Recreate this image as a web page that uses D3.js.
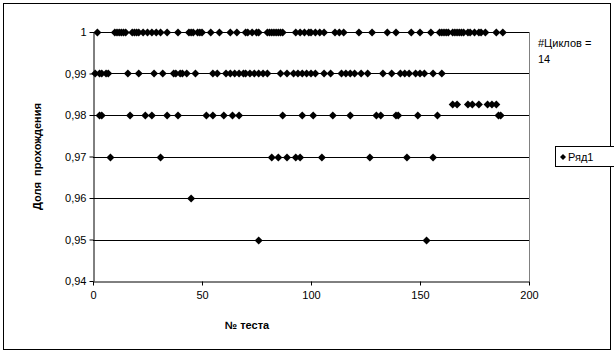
<!DOCTYPE html>
<html>
<head>
<meta charset="utf-8">
<script src="https://cdn.jsdelivr.net/npm/d3@7"></script>
<style>
  body { margin: 0; background: #fff; }
  svg { font-family: Arial, "Liberation Sans", sans-serif; }
</style>
</head>
<body>
<div id="chart"></div>
<script>
// test numbers for each pass-rate level
const tests100 = [2, 10, 11, 12, 13, 14, 15, 18, 19, 20, 21, 23, 25, 27, 29, 31, 34, 39,
  44, 45, 46, 48, 49, 50, 54, 58, 63, 66, 70, 71, 73, 75, 76, 80, 81, 82, 83, 84, 85, 86, 87,
  93, 95, 97, 99, 100, 102, 104, 106, 111, 113, 115, 122, 128, 135, 139, 146, 150, 155,
  159, 160, 161, 162, 163, 165, 166, 167, 168, 169, 170, 172, 173, 175, 177, 178, 180, 185, 188];
const tests099 = [1, 3, 4, 6, 7, 16, 21, 28, 32, 37, 38, 40, 41, 43, 47, 55, 57,
  61, 63, 65, 67, 69, 70, 72, 74, 76, 78, 80, 86, 89, 92, 94, 96, 98, 100, 102, 106, 109,
  114, 116, 118, 120, 123, 126, 133, 137, 141, 143, 145, 148, 150, 152, 156, 160];
const tests0985 = [165, 167, 172, 174, 177, 181, 183, 185];
const tests098 = [3, 4, 17, 24, 27, 34, 39, 52, 55, 60, 64, 67, 87, 96, 101, 110, 118,
  130, 132, 139, 140, 149, 158, 186, 187];
const tests097 = [8, 31, 82, 85, 89, 93, 95, 105, 127, 144, 156];
const tests096 = [45];
const tests095 = [76, 153];

const levels = [1, 0.99, 0.9826, 0.98, 0.97, 0.96, 0.95];
const testsByLevel = [tests100, tests099, tests0985, tests098, tests097, tests096, tests095];

const xTicks = [0, 50, 100, 150, 200];
const yTicks = [0.94, 0.95, 0.96, 0.97, 0.98, 0.99, 1];
const yTickLabels = ['0,94', '0,95', '0,96', '0,97', '0,98', '0,99', '1'];

const points = [];
testsByLevel.forEach((arr, i) => arr.forEach(t => points.push([t, levels[i]])));

const width = 614, height = 354;
const plot = { left: 93, right: 529, top: 32, bottom: 281 };

const svg = d3.select('#chart').append('svg')
  .attr('width', width).attr('height', height);

svg.append('rect')
  .attr('x', 3.5).attr('y', 3.5)
  .attr('width', 607).attr('height', 346)
  .attr('fill', 'none').attr('stroke', '#000');

const x = d3.scaleLinear([0, 200], [plot.left, plot.right]);
const y = d3.scaleLinear([0.94, 1], [plot.bottom, plot.top]);

// gridlines
svg.append('g').selectAll('line')
  .data(yTicks.slice(1))
  .join('line')
  .attr('x1', plot.left).attr('x2', plot.right)
  .attr('y1', d => Math.round(y(d)) + 0.5).attr('y2', d => Math.round(y(d)) + 0.5)
  .attr('stroke', '#000').attr('stroke-width', 1);

// right border of plot area
svg.append('line')
  .attr('x1', plot.right + 0.5).attr('x2', plot.right + 0.5)
  .attr('y1', plot.top).attr('y2', plot.bottom)
  .attr('stroke', '#808080');

const axisX = d3.axisBottom(x).tickValues(xTicks).tickSize(4).tickSizeOuter(0);
svg.append('g')
  .attr('transform', `translate(0,${plot.bottom + 0.5})`)
  .call(axisX)
  .call(g => g.select('.domain').attr('stroke', '#000'))
  .call(g => g.selectAll('text').attr('font-size', 11).attr('fill', '#000')
    .attr('font-family', 'Arial, "Liberation Sans", sans-serif').attr('dy', '0.95em'));

const axisY = d3.axisLeft(y).tickValues(yTicks)
  .tickFormat((d, i) => yTickLabels[i]).tickSize(4).tickSizeOuter(0);
svg.append('g')
  .attr('transform', `translate(${plot.left + 0.5},0)`)
  .call(axisY)
  .call(g => g.select('.domain').attr('stroke', '#000'))
  .call(g => g.selectAll('text').attr('font-size', 11).attr('fill', '#000')
    .attr('font-family', 'Arial, "Liberation Sans", sans-serif').attr('x', -7));

// markers
const diamond = 'M0,-4L4,0L0,4L-4,0Z';
svg.append('g').selectAll('path')
  .data(points)
  .join('path')
  .attr('d', diamond)
  .attr('transform', d => `translate(${x(d[0])},${Math.round(y(d[1])) + 0.5})`)
  .attr('fill', '#000');

// axis titles
svg.append('text')
  .attr('x', (plot.left + plot.right) / 2 - 64).attr('y', 329)
  .attr('text-anchor', 'middle')
  .attr('font-size', 11).attr('font-weight', 'bold')
  .text('№ теста');

svg.append('text')
  .attr('transform', `translate(41,${(plot.top + plot.bottom) / 2}) rotate(-90)`)
  .attr('text-anchor', 'middle')
  .attr('font-size', 11).attr('font-weight', 'bold')
  .style('white-space', 'pre')
  .text('Доля  прохождения');

// note text
svg.append('text').attr('x', 538).attr('y', 47).attr('font-size', 11).text('#Циклов =');
svg.append('text').attr('x', 538).attr('y', 63).attr('font-size', 11).text('14');

// legend
const legend = svg.append('g');
legend.append('rect')
  .attr('x', 555.5).attr('y', 146.5).attr('width', 70).attr('height', 20)
  .attr('fill', '#fff').attr('stroke', '#000');
legend.append('path')
  .attr('d', 'M0,-3L3,0L0,3L-3,0Z')
  .attr('transform', 'translate(563,157)')
  .attr('fill', '#000');
legend.append('text')
  .attr('x', 568).attr('y', 161).attr('font-size', 11).text('Ряд1');
</script>
</body>
</html>
